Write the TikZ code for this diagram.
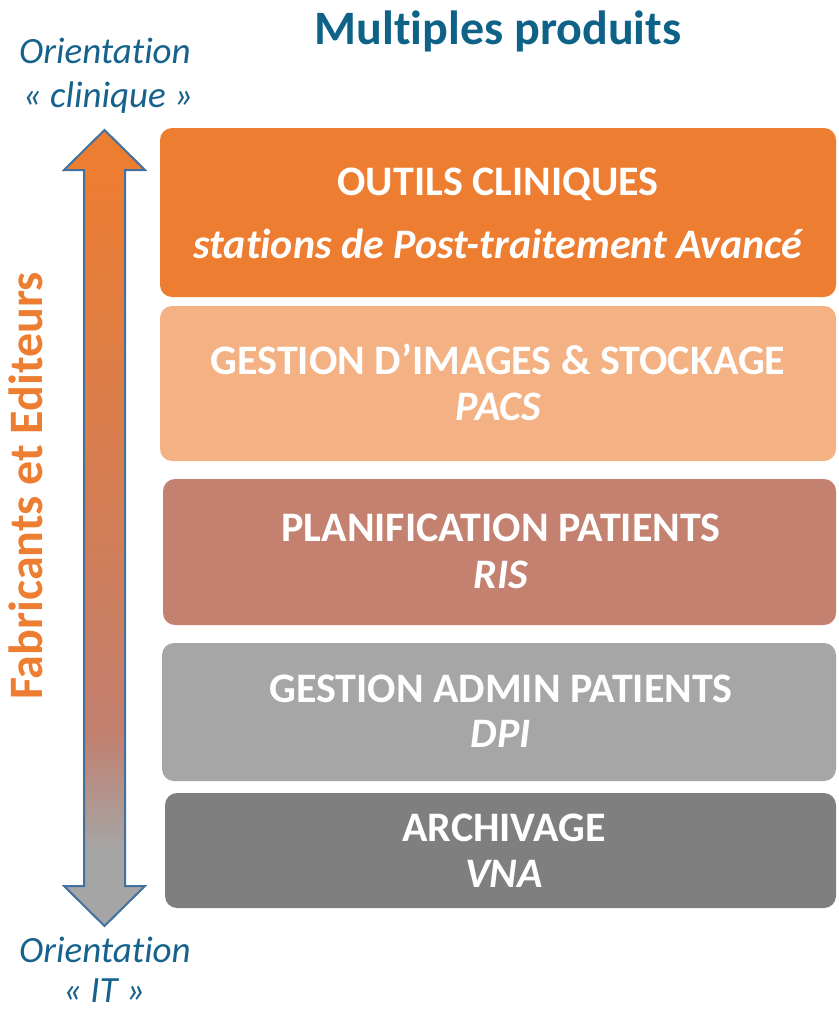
\documentclass[tikz,border=0pt]{standalone}
\usepackage{fontspec}
\setmainfont{Carlito}[Ligatures={NoCommon,TeX}]
\definecolor{titleblue}{RGB}{14,98,136}
\definecolor{orientblue}{RGB}{22,98,140}
\definecolor{c1}{RGB}{237,125,49}
\definecolor{c2}{RGB}{244,177,131}
\definecolor{c3}{RGB}{196,129,112}
\definecolor{c4}{RGB}{166,166,166}
\definecolor{c5}{RGB}{127,127,127}
\definecolor{arrowborder}{RGB}{65,113,156}
\definecolor{arrosy}{RGB}{194,127,110}
\definecolor{argray}{RGB}{165,165,165}
\pgfdeclareverticalshading{arrowshade}{100bp}{%
  color(0bp)=(argray); color(25bp)=(argray); color(29.8bp)=(argray);
  color(37.3bp)=(arrosy); color(72.5bp)=(c1); color(100bp)=(c1)}
\begin{document}
\begin{tikzpicture}[x=1pt,y=1pt,
  layer/.style={rounded corners=12pt},
  boxtext/.style={anchor=base,text=white,font=\fontsize{42}{50}\selectfont\bfseries,inner sep=0pt},
  boxsub/.style={anchor=base,text=white,font=\fontsize{42}{50}\selectfont\bfseries\itshape,inner sep=0pt},
  orient/.style={anchor=base,text=orientblue,font=\fontsize{37}{44}\selectfont\itshape,inner sep=0pt}]
\useasboundingbox (0,0) rectangle (838,-1009);
% title
\node[anchor=base,text=titleblue,font=\fontsize{48}{56}\selectfont\bfseries,inner sep=0pt] (title) at (498,-44) {Multiples produits};
% orientation labels
\node[orient] (o1) at (105,-63) {Orientation};
\node[orient] (o2) at (108,-107) {« clinique »};
\node[orient] (o3) at (105,-962) {Orientation};
\node[orient] (o4) at (104,-1002) {« IT »};
% arrow
\shade[shading=arrowshade] (104.5,-130) -- (145,-170) -- (125,-170) -- (125,-886) -- (145,-886) -- (104.5,-926) -- (64,-886) -- (84,-886) -- (84,-170) -- (64,-170) -- cycle;
\draw[arrowborder,line width=2pt,line join=miter] (104.5,-130) -- (145,-170) -- (125,-170) -- (125,-886) -- (145,-886) -- (104.5,-926) -- (64,-886) -- (84,-886) -- (84,-170) -- (64,-170) -- cycle;
\node[rotate=90,anchor=base,text=c1,font=\fontsize{48}{56}\selectfont\bfseries,inner sep=0pt] (fab) at (42,-486) {Fabricants et Editeurs};
% boxes
\fill[c1,layer] (160,-128) rectangle (836,-297);
\fill[c2,layer] (160,-306) rectangle (836,-461);
\fill[c3,layer] (163,-479) rectangle (836,-625);
\fill[c4,layer] (162,-643) rectangle (836,-781);
\fill[c5,layer] (165,-793) rectangle (836,-908);
\node[boxtext] (t1) at (498,-195) {OUTILS CLINIQUES};
\node[boxsub] (s1) at (498,-258) {stations de Post-traitement Avancé};
\node[boxtext] (t2) at (498,-374) {GESTION D’IMAGES \& STOCKAGE};
\node[boxsub] (s2) at (498,-420) {PACS};
\node[boxtext] (t3) at (501,-541) {PLANIFICATION PATIENTS};
\node[boxsub] (s3) at (501,-588) {RIS};
\node[boxtext] (t4) at (501,-702) {GESTION ADMIN PATIENTS};
\node[boxsub] (s4) at (501,-747) {DPI};
\node[boxtext] (t5) at (504,-841) {ARCHIVAGE};
\node[boxsub] (s5) at (504,-887) {VNA};
\end{tikzpicture}
\end{document}
